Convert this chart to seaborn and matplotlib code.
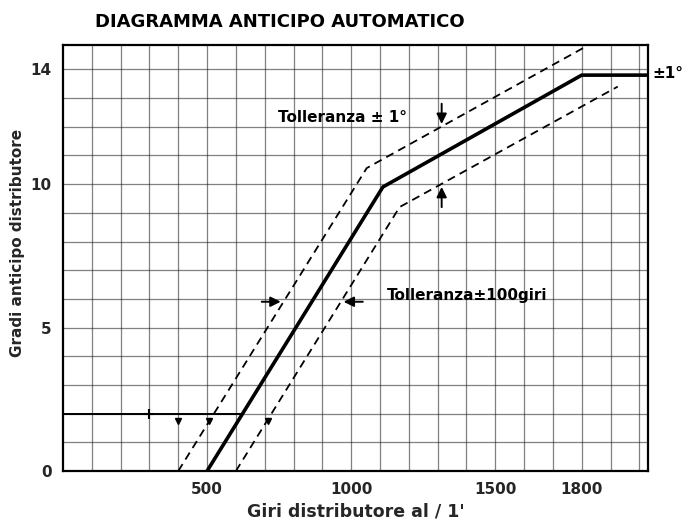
import matplotlib
matplotlib.use("Agg")
import matplotlib.pyplot as plt
import pandas as pd
import seaborn as sns

title = "DIAGRAMMA ANTICIPO AUTOMATICO"
x_label = "Giri distributore al / 1'"
y_label = "Gradi anticipo distributore"

# Nominal advance curve (rpm -> degrees)
rpm_nominal = [500, 1110, 1800, 2030]
adv_nominal = [0, 9.9, 13.8, 13.8]
# Tolerance band limits
rpm_upper = [400, 1054, 1815]
adv_upper = [0, 10.56, 14.8]
rpm_lower = [600, 1168, 1925]
adv_lower = [0, 9.2, 13.4]

x_ticks = [500, 1000, 1500, 1800]
y_ticks = [0, 5, 10, 14]
x_max = 2030
y_max = 14.85

tol_deg_text = "Tolleranza \u00b1 1\u00b0"
tol_rpm_text = "Tolleranza\u00b1100giri"
side_text = "\u00b11\u00b0"

sns.set_style("white")
plt.rcParams["font.family"] = ["DejaVu Sans"]

fig = plt.figure(figsize=(6.86, 5.21), dpi=100)
ax = fig.add_axes([63 / 686, 50 / 521, 585 / 686, 426 / 521])

nominal = pd.DataFrame({"rpm": rpm_nominal, "deg": adv_nominal})
upper = pd.DataFrame({"rpm": rpm_upper, "deg": adv_upper})
lower = pd.DataFrame({"rpm": rpm_lower, "deg": adv_lower})

# grid: every 100 rpm and every degree
for g in range(100, 2030, 100):
    ax.axvline(g, color="#1a1a1a", lw=0.9, alpha=0.55, zorder=1)
for g in range(1, 15):
    ax.axhline(g, color="#1a1a1a", lw=0.9, alpha=0.55, zorder=1)
ax.plot([0, 620], [2, 2], color="black", lw=1.4, zorder=2)

sns.lineplot(data=upper, x="rpm", y="deg", ax=ax, sort=False, estimator=None,
             color="black", lw=1.3, linestyle=(0, (4.5, 3)), zorder=3)
sns.lineplot(data=lower, x="rpm", y="deg", ax=ax, sort=False, estimator=None,
             color="black", lw=1.3, linestyle=(0, (4.5, 3)), zorder=3)
sns.lineplot(data=nominal, x="rpm", y="deg", ax=ax, sort=False, estimator=None,
             color="black", lw=2.6, zorder=4)

# tolerance arrows
arrow_kw = dict(arrowstyle="-|>", color="black", lw=1.4, mutation_scale=15)
ax.annotate("", xy=(1314, 12.0), xytext=(1314, 12.9), arrowprops=arrow_kw)
ax.annotate("", xy=(1314, 10.0), xytext=(1314, 9.1), arrowprops=arrow_kw)
ax.annotate("", xy=(765, 5.9), xytext=(680, 5.9), arrowprops=arrow_kw)
ax.annotate("", xy=(964, 5.9), xytext=(1050, 5.9), arrowprops=arrow_kw)

# small markers on the 2-degree line
ax.plot([400, 505, 712], [1.75, 1.75, 1.75], linestyle="none", marker="v",
        color="black", markersize=5, zorder=4)
ax.plot([300], [2], linestyle="none", marker="+", color="black",
        markersize=7, mew=1.5, zorder=4)

text_kw = dict(color="black", fontweight="bold")
ax.text(745, 12.34, tol_deg_text, ha="left", va="center", fontsize=11, **text_kw)
ax.text(1123, 6.13, tol_rpm_text, ha="left", va="center", fontsize=11, **text_kw)
ax.text(2045, 13.87, side_text, ha="left", va="center", fontsize=11,
        clip_on=False, **text_kw)

ax.set_xlim(0, x_max)
ax.set_ylim(0, y_max)
ax.set_xticks(x_ticks)
ax.set_yticks(y_ticks)
ax.tick_params(length=0, labelsize=11, pad=8)
for lab in ax.get_xticklabels() + ax.get_yticklabels():
    lab.set_fontweight("bold")
ax.set_xlabel(x_label, fontsize=12.5, fontweight="bold", labelpad=4)
ax.set_ylabel(y_label, fontsize=11, fontweight="bold")
ax.yaxis.set_label_coords(-0.065, 0.535)
for s in ax.spines.values():
    s.set_visible(True)
    s.set_color("black")
    s.set_linewidth(1.6)

fig.text(95 / 686, 1 - 22 / 521, title, ha="left", va="center",
         fontsize=13, color="black", fontweight="bold")

fig.savefig("out.png", dpi=100, facecolor="white")
